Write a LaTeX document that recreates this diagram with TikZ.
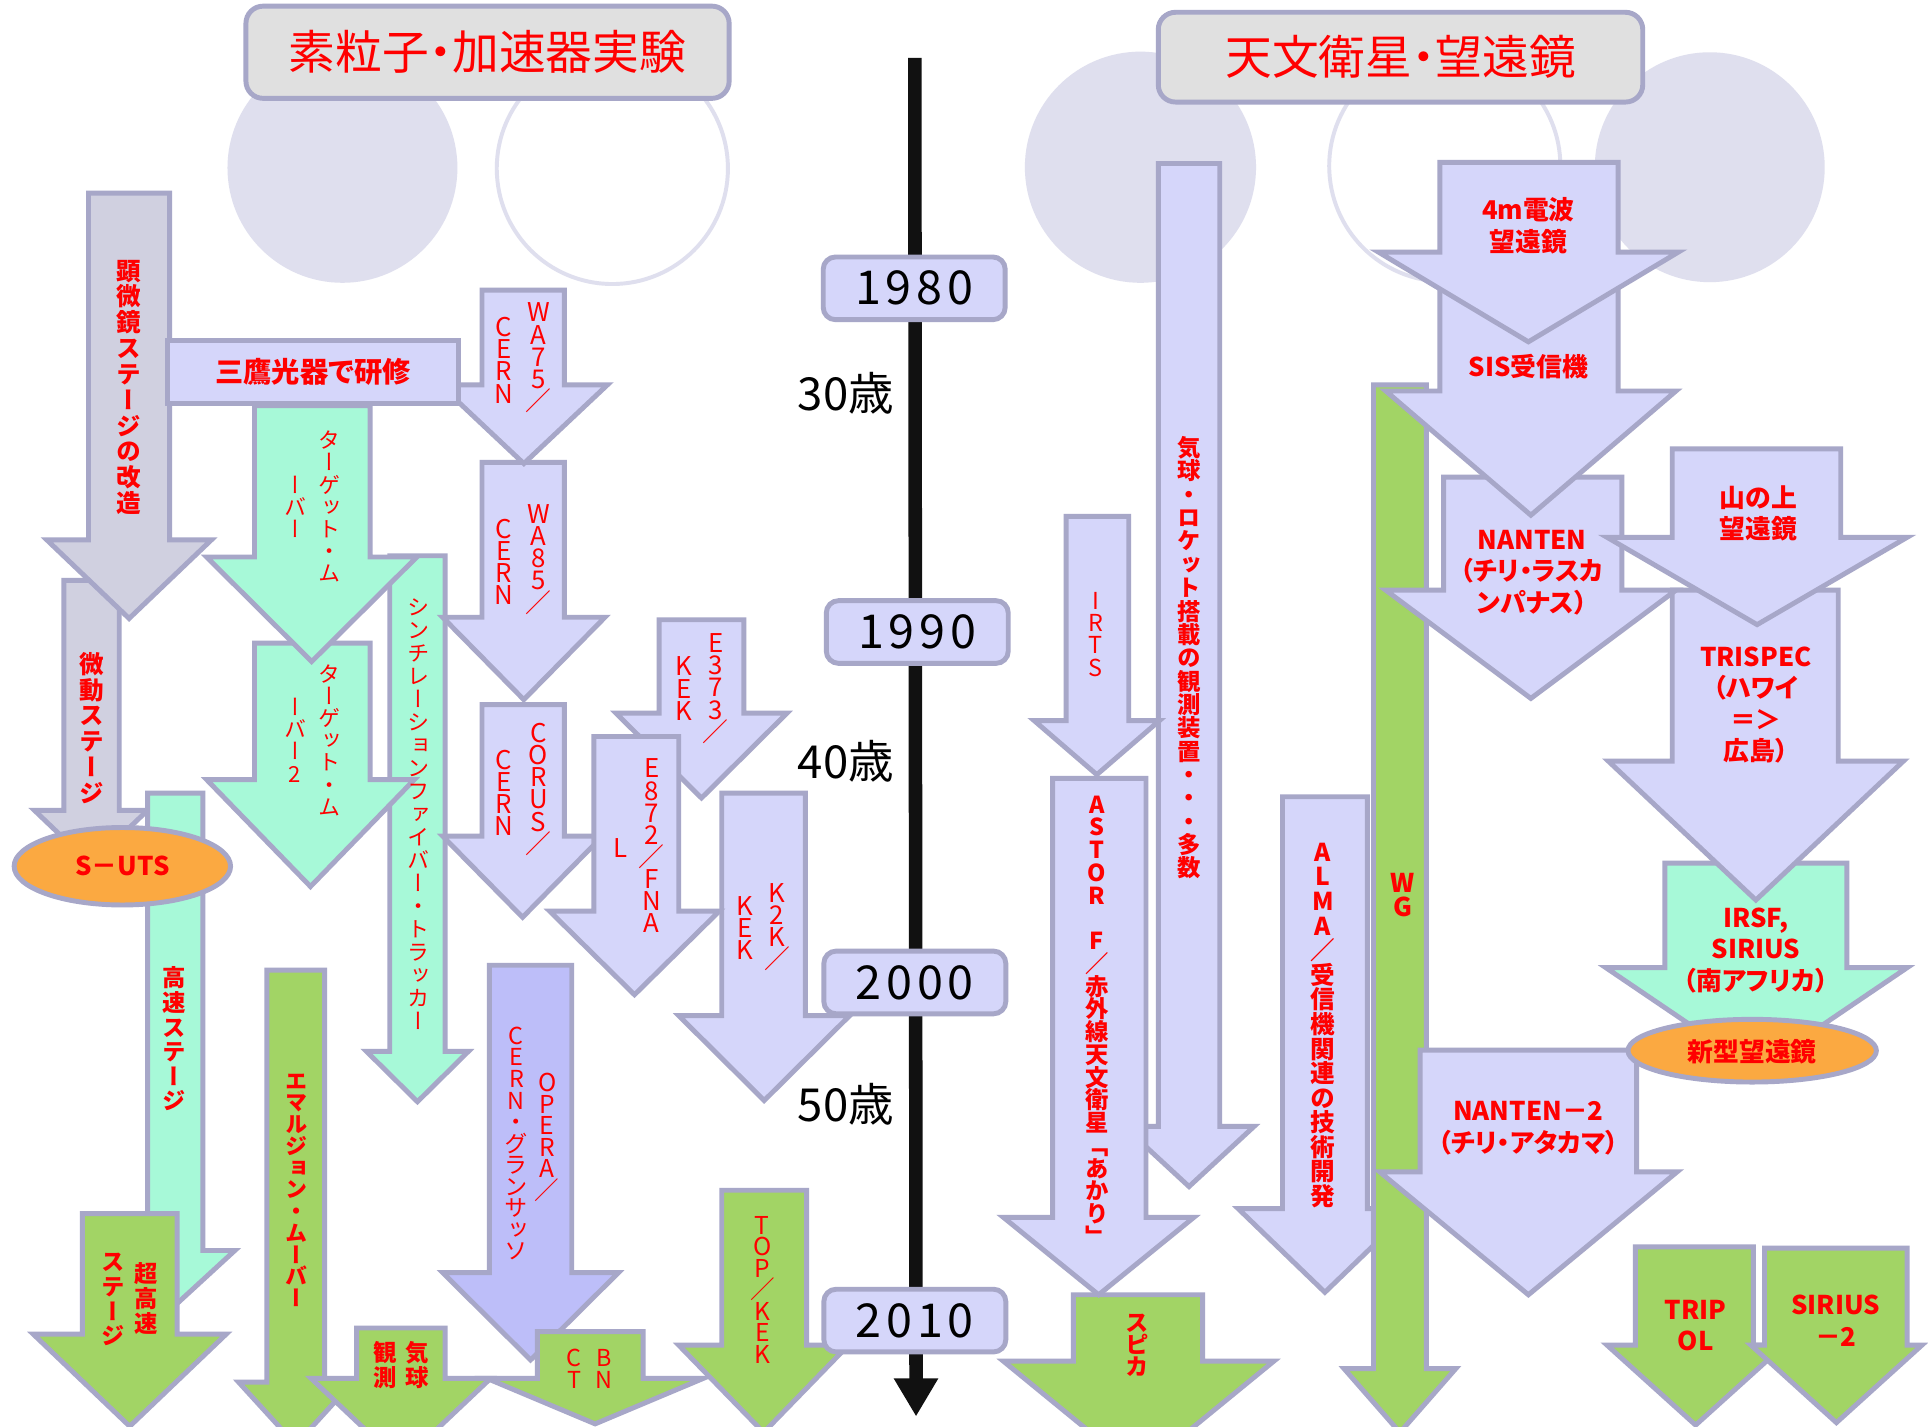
\documentclass[tikz,border=0pt]{standalone}
\usepackage{fontspec}
\usetikzlibrary{shapes.geometric,arrows.meta}
\newfontfamily\jp{Noto Sans CJK JP}
\newfontfamily\jpv{Noto Sans CJK JP}[RawFeature=+vert]
\newfontfamily\jph{Noto Sans CJK JP}[RawFeature=+palt]
\definecolor{strk}{RGB}{167,167,200}
\definecolor{lav}{RGB}{213,214,250}
\definecolor{gry}{RGB}{208,208,224}
\definecolor{mint}{RGB}{167,249,216}
\definecolor{grn}{RGB}{162,212,101}
\definecolor{opr}{RGB}{189,190,249}
\definecolor{org}{RGB}{251,169,65}
\definecolor{bgc}{RGB}{223,223,238}
\definecolor{ttl}{RGB}{224,224,224}
\definecolor{tline}{RGB}{17,17,17}
\makeatletter
\def\vc@end{vc@end@marker}
\newcommand\vcol[2]{\vbox{\baselineskip=#1\lineskiplimit=-100pt\lineskip=0pt\relax\vc@loop#2\vc@end}}
\def\vc@loop#1{\ifx#1\vc@end\else\hbox to 1.05em{\hss#1\hss}\expandafter\vc@loop\fi}
\makeatother
\newcommand\VS{\phantom{M}}
\newcommand\vfb[1]{\jpv\bfseries\fontsize{#1}{#1}\selectfont}
\newcommand\vfr[1]{\jpv\fontsize{#1}{#1}\selectfont}
\newcommand\darr[8]{\path[#1] (#2,#4) -- (#3,#4) -- (#3,#5) -- (#7,#5) -- ({(#6+#7)/2},#8) -- (#6,#5) -- (#2,#5) -- cycle;}
\tikzset{
  arr/.style={draw=strk, line width=2pt, line join=miter},
  lavA/.style={arr, fill=lav},
  gryA/.style={arr, fill=gry},
  mintA/.style={arr, fill=mint},
  grnA/.style={arr, fill=grn},
  oprA/.style={arr, fill=opr},
  vl/.style={text=red, inner sep=0pt},
  hl/.style={text=red, inner sep=0pt, align=center, font=\jph\bfseries\fontsize{10.5}{12.8}\selectfont},
  oval/.style={ellipse, draw=strk, line width=2pt, fill=org, inner sep=0pt},
  yb/.style={draw=strk, line width=2pt, fill=lav, rounded corners=5pt, minimum width=74pt, minimum height=25.5pt, inner sep=0pt, text=black, font=\jp\fontsize{19}{19}\selectfont\addfontfeature{LetterSpace=10}},
  age/.style={inner sep=0pt, text=black, font=\jp\fontsize{18.5}{18.5}\selectfont},
  ttlbox/.style={draw=strk, line width=2pt, fill=ttl, rounded corners=7pt, inner sep=0pt, text=red, font=\jph\fontsize{19}{19}\selectfont},
}
\begin{document}
\begin{tikzpicture}[x=0.5pt,y=-0.5pt]
\useasboundingbox (0,0) rectangle (1568,1160);
\fill[white] (0,0) rectangle (1568,1160);
\begin{scope}
\clip (0,0) rectangle (1568,1160);
% background circles
\fill[bgc] (278.5,136.5) circle[radius=93.5];
\draw[bgc, line width=1.6pt, fill=white] (498,137) circle[radius=94];
\fill[bgc] (927.5,136) circle[radius=94];
\draw[bgc, line width=1.6pt, fill=white] (1175,135) circle[radius=94];
\fill[bgc] (1390.5,136) circle[radius=93.5];
% titles
\node[ttlbox, minimum width=196.5pt, minimum height=37.5pt] (title1) at (396.5,42.5) {素粒子・加速器実験};
\node[ttlbox, minimum width=197pt, minimum height=36.5pt] (title2) at (1139,46.5) {天文衛星・望遠鏡};

% ---------- left group ----------
\darr{gryA}{52}{97}{472}{659}{28}{120}{703}
\darr{gryA}{72}{138}{157}{439}{38}{172}{503}
\darr{mintA}{120}{165}{645}{1017}{93}{191}{1062}
\node[oval, minimum width=88pt, minimum height=31.5pt, font=\jph\bfseries\fontsize{10.5}{12}\selectfont, text=red] (suts) at (99.5,704.5) {S－UTS};
\darr{grnA}{67}{144}{987}{1085}{27}{184}{1160}
\darr{mintA}{317}{362}{452}{855}{298}{381}{896}
\darr{mintA}{207}{301}{523}{634}{168}{337}{721}
\darr{mintA}{207}{301}{330}{453}{168}{339}{538}
\darr{lavA}{392}{459}{573}{680}{360}{490}{746}
\darr{lavA}{392}{459}{376}{502}{360}{492}{569}
\darr{lavA}{392}{459}{236}{313}{358}{494}{377}
\path[lavA] (136,277) rectangle (373,328);
\darr{lavA}{536}{605}{504}{580}{501}{640}{649}
\darr{lavA}{587}{655}{645}{826}{552}{691}{895}
\darr{lavA}{483}{552}{599}{741}{447}{585}{809}
\darr{grnA}{217}{264}{789}{1124}{194}{287}{1175}
\darr{grnA}{290}{362}{1080}{1121}{253}{399}{1190}
\darr{oprA}{398}{465}{785}{1035}{360}{503}{1106}
\darr{grnA}{437}{523}{1083}{1121}{396}{572}{1158}
\darr{grnA}{587}{656}{968}{1094}{552}{690}{1165}

% left labels
\node[hl, font=\jph\bfseries\fontsize{11.5}{12}\selectfont] (lmitaka) at (254.5,302.5) {三鷹光器で研修};
\node[vl, font=\vfb{10}] (vken) at (105,315) {\vcol{10.5pt}{顕微鏡ステージの改造}};
\node[vl, font=\vfb{10}] (vbido) at (75,592) {\vcol{10.5pt}{微動ステージ}};
\node[vl, font=\vfb{9.5}] (vkou) at (142,845) {\vcol{10pt}{高速ステージ}};
\node[vl, font=\vfb{9.5}] (vchoR) at (119,1056) {\vcol{10pt}{超高速}};
\node[vl, font=\vfb{9.5}] (vchoL) at (92,1057) {\vcol{10pt}{ステージ}};
\node[vl, font=\vfr{9}] (vt1R) at (268,412) {\vcol{9pt}{ターゲット・ム}};
\node[vl, font=\vfr{9}] (vt1L) at (240,412) {\vcol{9pt}{ーバー}};
\node[vl, font=\vfr{9}] (vt2R) at (268,602) {\vcol{9pt}{ターゲット・ム}};
\node[vl, font=\vfr{9}] (vt2L) at (240,602) {\vcol{9pt}{ーバー2}};
\node[vl, font=\vfr{9}] (vsci) at (340,662) {\vcol{9.35pt}{シンチレーションファイバー・トラッカー}};
\node[vl, font=\vfr{10.5}] (vwa75R) at (438,291) {\vcol{9pt}{WA75／}};
\node[vl, font=\vfr{10.5}] (vwa75L) at (410,293) {\vcol{9pt}{CERN}};
\node[vl, font=\vfr{10.5}] (vwa85R) at (438,455) {\vcol{9pt}{WA85／}};
\node[vl, font=\vfr{10.5}] (vwa85L) at (410,457) {\vcol{9pt}{CERN}};
\node[vl, font=\vfr{10.5}] (vcorR) at (438,642) {\vcol{9pt}{CORUS／}};
\node[vl, font=\vfr{10.5}] (vcorL) at (410,645) {\vcol{9pt}{CERN}};
\node[vl, font=\vfr{10.5}] (ve373R) at (582,560) {\vcol{9pt}{E373／}};
\node[vl, font=\vfr{10.5}] (ve373L) at (556,560) {\vcol{9pt}{KEK}};
\node[vl, font=\vfr{10.5}] (ve872R) at (530,688) {\vcol{9pt}{E872／FNA}};
\node[vl, font=\vfr{10.5}] (ve872L) at (505,690) {\vcol{9pt}{L}};
\node[vl, font=\vfr{10.5}] (vk2kR) at (632,754) {\vcol{9pt}{K2K／}};
\node[vl, font=\vfr{10.5}] (vk2kL) at (606,755) {\vcol{9pt}{KEK}};
\node[vl, font=\vfr{10}] (voprR) at (445,925) {\vcol{8.75pt}{OPERA／}};
\node[vl, font=\vfr{9.5}] (voprL) at (420,930) {\vcol{8.75pt}{CERN・グランサッソ}};
\node[vl, font=\vfb{9}] (vemul) at (241,968) {\vcol{8.85pt}{エマルジョン・ムーバー}};
\node[vl, font=\vfb{9.5}] (vkikyuR) at (339,1110) {\vcol{10pt}{気球}};
\node[vl, font=\vfb{9.5}] (vkikyuL) at (313,1110) {\vcol{10pt}{観測}};
\node[vl, font=\vfr{9.5}] (vbnctR) at (491,1113) {\vcol{9pt}{BN}};
\node[vl, font=\vfr{9.5}] (vbnctL) at (467,1113) {\vcol{9pt}{CT}};
\node[vl, font=\vfr{10}] (vtop) at (620,1049) {\vcol{8.75pt}{TOP／KEK}};

% ---------- timeline ----------
\coordinate (tltop) at (744,47);
\coordinate (tlbot) at (745,1152);
\draw[tline, line width=5.5pt, -{Triangle[width=17pt,length=15.5pt]}] (tltop) -- (tlbot);
\node[yb] (y1980) at (743.5,234.5) {1980};
\node[yb] (y1990) at (746,514) {1990};
\node[yb] (y2000) at (744,799) {2000};
\node[yb] (y2010) at (744,1074) {2010};
\node[age] (a30) at (688,320) {30歳};
\node[age] (a40) at (688,619) {40歳};
\node[age] (a50) at (688,898) {50歳};

% ---------- right group ----------
\darr{lavA}{942}{992}{133}{916}{914}{1020}{965}
\darr{lavA}{867}{918}{420}{586}{841}{943}{630}
\darr{grnA}{873}{978}{1053}{1107}{816}{1036}{1197}
\darr{lavA}{856}{932}{633}{990}{816}{971}{1053}
\darr{lavA}{1043}{1112}{648}{983}{1007}{1148}{1051}
\darr{grnA}{1117}{1160}{313}{1113}{1093}{1184}{1165}
\darr{mintA}{1354}{1502}{702}{787}{1306}{1551}{870}
\darr{lavA}{1360}{1495}{480}{619}{1308}{1548}{732}
\darr{lavA}{1174}{1319}{388}{480}{1127}{1363}{568}
\darr{lavA}{1171}{1316}{235}{318}{1127}{1363}{419}
\darr{lavA}{1171}{1316}{132}{205}{1121}{1365}{278}
\darr{lavA}{1360}{1497}{365}{437}{1307}{1551}{508}
\darr{lavA}{1155}{1331}{854}{953}{1122}{1364}{1053}
\node[oval, minimum width=101pt, minimum height=25.5pt] (newtel) at (1425,854.5) {};
\darr{grnA}{1330}{1426}{1014}{1094}{1307}{1451}{1159}
\darr{grnA}{1435}{1551}{1015}{1094}{1424}{1563}{1157}

% right labels
\node[vl, font=\vfb{9.5}] (vballoon) at (967,535) {\vcol{9.5pt}{気球・ロケット搭載の観測装置・・・多数}};
\node[vl, font=\vfr{9.5}] (virts) at (891,516) {\vcol{9pt}{IRTS}};
\node[vl, font=\vfb{9.5}] (vastro) at (892,830) {\vcol{9.25pt}{ASTOR\VS F／赤外線天文衛星「あかり」}};
\node[vl, font=\vfb{9.5}] (vspica) at (925,1094) {\vcol{9pt}{スピカ}};
\node[vl, font=\vfb{10}] (valma) at (1076,834) {\vcol{10pt}{ALMA／受信機関連の技術開発}};
\node[vl, font=\vfb{10.5}] (vwg) at (1141,728) {\vcol{10pt}{WG}};
\node[hl] (l4m) at (1243,183.5) {4m電波\\望遠鏡};
\node[hl] (lsis) at (1243,298) {SIS受信機};
\node[hl] (lnan) at (1246,465.5) {NANTEN\\（チリ・ラスカ\\ンパナス）};
\node[hl] (lyama) at (1430,417.5) {山の上\\望遠鏡};
\node[hl] (ltri) at (1428,573.5) {TRISPEC\\（ハワイ\\＝＞\\広島）};
\node[hl] (lirsf) at (1428,773) {IRSF,\\SIRIUS\\（南アフリカ）};
\node[hl] (lnew) at (1425,855) {新型望遠鏡};
\node[hl] (lnan2) at (1243,917.5) {NANTEN－2\\（チリ・アタカマ）};
\node[hl] (ltripol) at (1379,1078) {TRIP\\OL};
\node[hl] (lsir2) at (1493,1074) {SIRIUS\\－2};
\end{scope}
\end{tikzpicture}
\end{document}
